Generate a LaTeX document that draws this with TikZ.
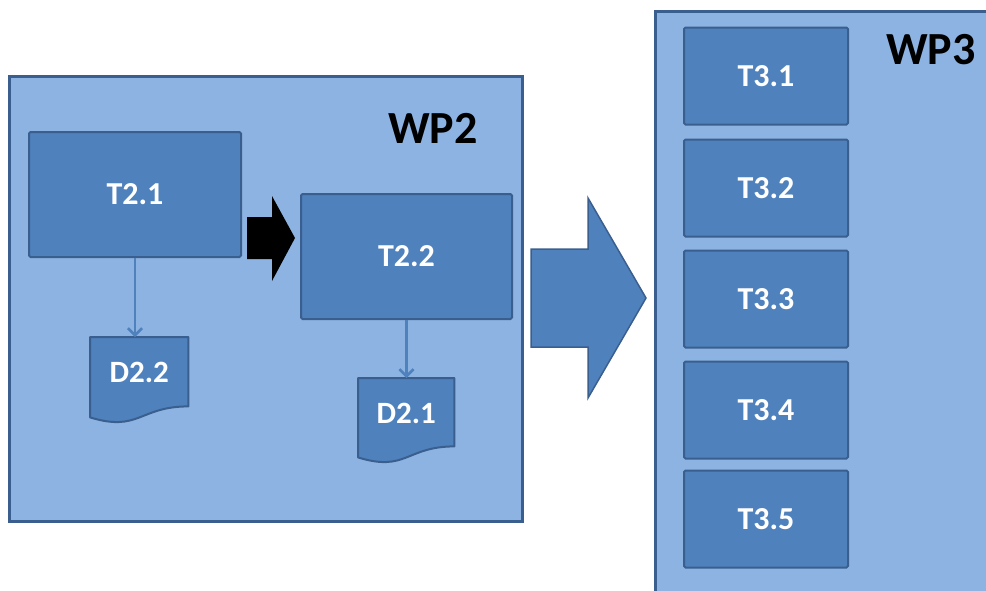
\documentclass[tikz,border=0pt]{standalone}
\usepackage{fontspec}
\setmainfont{Carlito}
\usetikzlibrary{arrows.meta,calc}
\definecolor{wpfill}{HTML}{8DB3E2}
\definecolor{boxfill}{HTML}{4F81BD}
\definecolor{edgecol}{HTML}{3A5F8E}
\tikzset{
  wpbox/.style={rectangle, fill=wpfill, draw=edgecol, line width=2.5pt, inner sep=0pt, anchor=north west},
  wplabel/.style={inner sep=0pt, font=\fontsize{46}{50}\selectfont\bfseries, text=black},
  taskbox/.style={rectangle, fill=boxfill, draw=edgecol, line width=2pt, rounded corners=1.5pt, inner sep=0pt,
    text=white, font=\fontsize{32}{38}\selectfont\bfseries},
  docframe/.style={rectangle, draw=none, inner sep=0pt, anchor=north west},
  docshape/.style={fill=boxfill, draw=edgecol, line width=2pt, line join=round},
  doclabel/.style={inner sep=0pt, text=white, font=\fontsize{31}{37}\selectfont\bfseries},
  conn/.style={draw=boxfill, line width=2.6pt, -{Straight Barb[length=7pt,width=14pt,line width=2.6pt]}},
  blockarrow/.style={fill=boxfill, draw=edgecol, line width=1.5pt, line join=miter},
}
\begin{document}
\begin{tikzpicture}[x=1pt,y=-1pt]
\useasboundingbox (0,0) rectangle (986,590);
\clip (0,0) rectangle (986,590);

% WP2 container
\node[wpbox, minimum width=513pt, minimum height=445pt] (wp2) at (8,75) {};
\node[wplabel] (wp2lab) at (433,128) {WP2};

% WP3 container (runs past the right and bottom edges)
\node[wpbox, minimum width=420pt, minimum height=700pt] (wp3) at (654,10) {};
\node[wplabel] (wp3lab) at (931,50) {WP3};

% tasks WP2
\node[taskbox, minimum width=212pt, minimum height=125pt] (T21) at (135,194.5) {T2.1};
\node[taskbox, minimum width=211pt, minimum height=125pt] (T22) at (406.5,256.5) {T2.2};

% documents
\node[docframe, minimum width=98pt, minimum height=69pt] (D22) at (90,337) {};
\path[docshape] (D22.north west) -- (D22.north east) -- (D22.south east)
  .. controls (D22.south) and ($(D22.south)+(0,26)$) .. ($(D22.south west)+(0,11)$) -- cycle;
\node[doclabel] (D22lab) at ($(D22.north)+(0,35)$) {D2.2};

\node[docframe, minimum width=96pt, minimum height=68pt] (D21) at (358,378) {};
\path[docshape] (D21.north west) -- (D21.north east) -- (D21.south east)
  .. controls (D21.south) and ($(D21.south)+(0,26)$) .. ($(D21.south west)+(0,11)$) -- cycle;
\node[doclabel] (D21lab) at ($(D21.north)+(0,35)$) {D2.1};

% connectors
\draw[conn] (T21.south) -- (T21.south |- D22.north);
\draw[conn] (T22.south) -- (T22.south |- D21.north);

% black block arrow T2.1 -> T2.2
\fill[black] (247,217) -- (272,217) -- (272,196) -- (295,238) -- (272,281) -- (272,259) -- (247,259) -- cycle;

% big block arrow WP2 -> WP3
\path[blockarrow] (531,249) -- (588,249) -- (588,198) -- (646,298) -- (588,398) -- (588,347) -- (531,347) -- cycle;

% tasks WP3
\node[taskbox, minimum width=164pt, minimum height=97pt] (T31) at (766,76) {T3.1};
\node[taskbox, minimum width=164pt, minimum height=97pt] (T32) at (766,188) {T3.2};
\node[taskbox, minimum width=164pt, minimum height=97pt] (T33) at (766,299) {T3.3};
\node[taskbox, minimum width=164pt, minimum height=97pt] (T34) at (766,410) {T3.4};
\node[taskbox, minimum width=164pt, minimum height=97pt] (T35) at (766,519) {T3.5};
\end{tikzpicture}
\end{document}
